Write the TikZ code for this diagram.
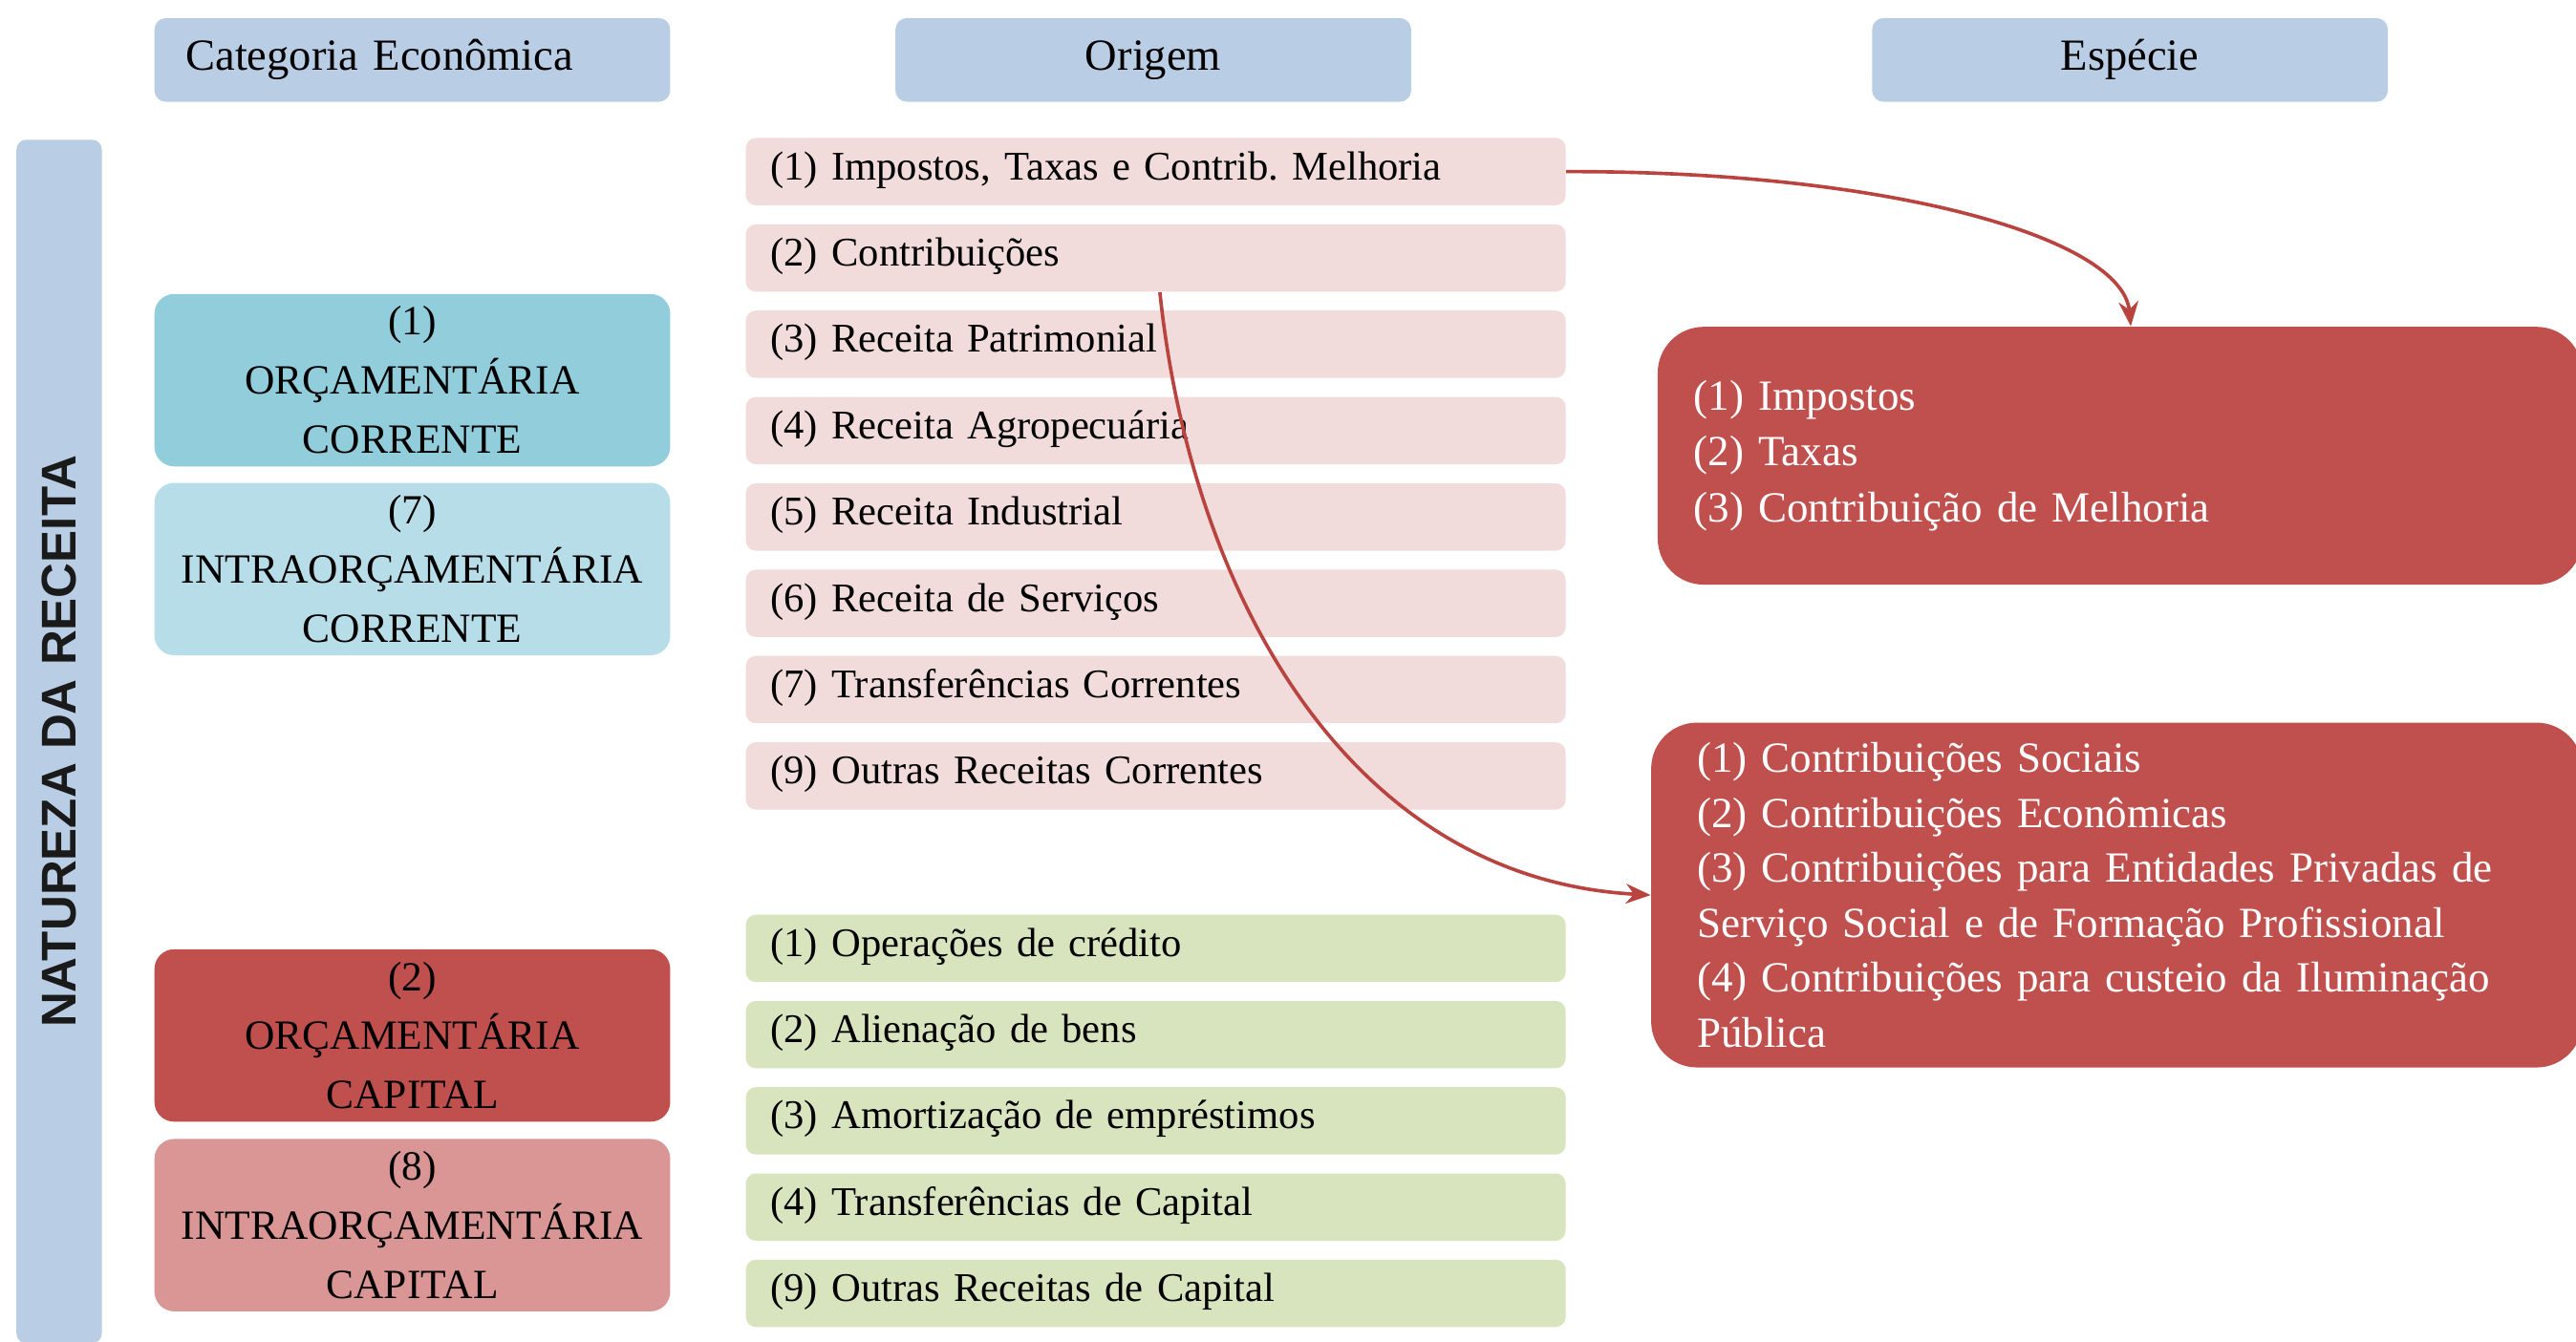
\documentclass[tikz,border=0pt]{standalone}
\usepackage{fontspec}
\setmainfont{Liberation Serif}
\newfontfamily\barfont{Liberation Sans}
\usetikzlibrary{arrows.meta}
\frenchspacing
\definecolor{hdrblue}{HTML}{B9CDE5}
\definecolor{catA}{HTML}{92CDDC}
\definecolor{catB}{HTML}{B7DEE8}
\definecolor{catC}{HTML}{C0504D}
\definecolor{catD}{HTML}{D99694}
\definecolor{rowpink}{HTML}{F2DCDB}
\definecolor{rowgreen}{HTML}{D7E4BD}
\definecolor{redbox}{HTML}{C0504D}
\definecolor{arrowred}{HTML}{B8433F}
\definecolor{bartext}{HTML}{1A1A1A}
\begin{document}
\begin{tikzpicture}[x=0.02cm,y=-0.02cm,
  hdr/.style={fill=hdrblue, rounded corners=0.14cm, minimum width=6.28cm,
    minimum height=1.02cm, inner sep=0pt, font=\fontsize{15.4}{18}\selectfont},
  bar/.style={fill=hdrblue, rounded corners=0.12cm, rotate=90,
    minimum width=14.66cm, minimum height=1.04cm, inner sep=0pt,
    text=bartext, font=\barfont\bfseries\fontsize{16.9}{20}\selectfont},
  cat/.style={rounded corners=0.24cm, minimum width=6.28cm, minimum height=2.1cm,
    inner sep=0pt, align=center, font=\fontsize{14.4}{20.5}\selectfont},
  row/.style={rounded corners=0.12cm, minimum width=9.98cm, minimum height=0.82cm,
    text width=9.38cm, inner xsep=0.3cm, inner ysep=0pt, align=left,
    text height=0.8em, text depth=0.24em, font=\fontsize{14.1}{17}\selectfont},
  pinkrow/.style={row, fill=rowpink},
  greenrow/.style={row, fill=rowgreen},
  esp/.style={fill=redbox, text=white, rounded corners=0.56cm, inner ysep=0pt,
    align=left},
  link/.style={draw=arrowred, line width=1.2pt,
    -{Stealth[length=0.3cm,width=0.24cm]}}
]
\clip (0,0) rectangle (1568,817);
\fill[white] (0,0) rectangle (1568,817);

% column headers
\node[hdr, text width=5.52cm, inner xsep=0.38cm, align=left] (hcat) at (251,36.5) {Categoria Econômica};
\node[hdr] (hori) at (702,36.5) {Origem};
\node[hdr] (hesp) at (1296.5,36.5) {Espécie};

% side band
\node[bar] (nat) at (36,451.5) {NATUREZA DA RECEITA};

% economic categories
\node[cat, fill=catA] (c1) at (251,231.5) {(1)\\ORÇAMENTÁRIA\\CORRENTE};
\node[cat, fill=catB] (c7) at (251,346.5) {(7)\\INTRAORÇAMENTÁRIA\\CORRENTE};
\node[cat, fill=catC] (c2) at (251,630.5) {(2)\\ORÇAMENTÁRIA\\CAPITAL};
\node[cat, fill=catD] (c8) at (251,746) {(8)\\INTRAORÇAMENTÁRIA\\CAPITAL};

% current revenue origins
\node[pinkrow] (o1) at (703.5,104.5) {(1) Impostos, Taxas e Contrib. Melhoria};
\node[pinkrow] (o2) at (703.5,157.1) {(2) Contribuições};
\node[pinkrow] (o3) at (703.5,209.6) {(3) Receita Patrimonial};
\node[pinkrow] (o4) at (703.5,262.2) {(4) Receita Agropecuária};
\node[pinkrow] (o5) at (703.5,314.8) {(5) Receita Industrial};
\node[pinkrow] (o6) at (703.5,367.4) {(6) Receita de Serviços};
\node[pinkrow] (o7) at (703.5,419.9) {(7) Transferências Correntes};
\node[pinkrow] (o9) at (703.5,472.5) {(9) Outras Receitas Correntes};

% capital revenue origins
\node[greenrow] (k1) at (703.5,577.5) {(1) Operações de crédito};
\node[greenrow] (k2) at (703.5,630) {(2) Alienação de bens};
\node[greenrow] (k3) at (703.5,682.5) {(3) Amortização de empréstimos};
\node[greenrow] (k4) at (703.5,735) {(4) Transferências de Capital};
\node[greenrow] (k9) at (703.5,787.5) {(9) Outras Receitas de Capital};

% species
\node[esp, minimum width=11.26cm, minimum height=3.14cm, text width=10.38cm,
  inner xsep=0.44cm, font=\fontsize{14.9}{19.3}\selectfont] (espA) at (1290.5,277.5)
  {(1) Impostos\\(2) Taxas\\(3) Contribuição de Melhoria};
\node[esp, minimum width=11.34cm, minimum height=4.2cm, text width=10.22cm,
  inner xsep=0.56cm, font=\fontsize{14.9}{19.05}\selectfont] (espB) at (1288.5,545)
  {(1) Contribuições Sociais\\(2) Contribuições Econômicas\\(3) Contribuições para Entidades Privadas de\\Serviço Social e de Formação Profissional\\(4) Contribuições para custeio da Iluminação\\Pública};

% links
\coordinate (o2foot) at ([xshift=0.05cm]o2.south);
\coordinate (espAtop) at ([xshift=0.13cm]espA.north);
\draw[link] (o1.east) .. controls (1150,104) and (1292,145) .. (espAtop);
\draw[link] (o2foot) .. controls (725,360) and (820,535) .. (espB.west);
\end{tikzpicture}
\end{document}
